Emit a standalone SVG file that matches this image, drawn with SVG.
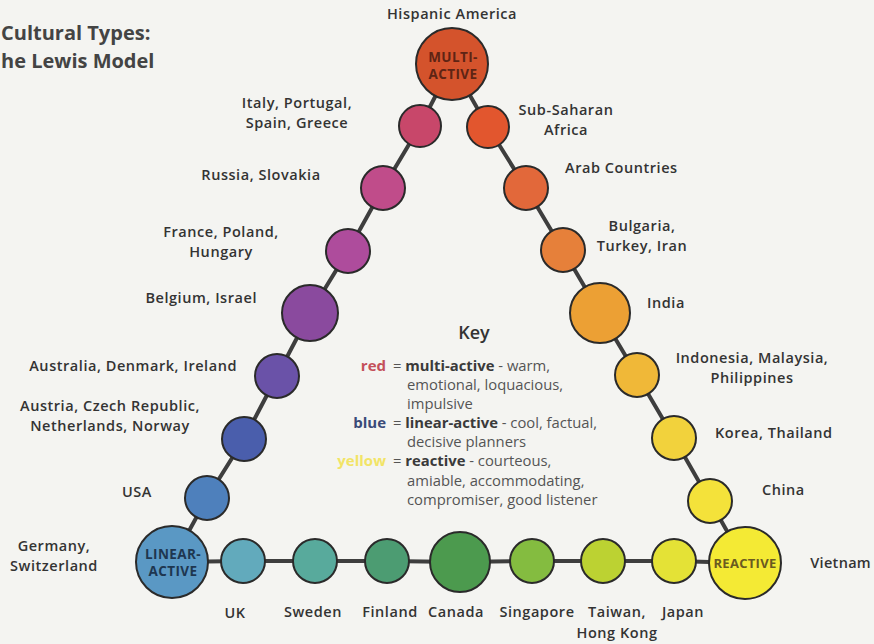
<svg xmlns="http://www.w3.org/2000/svg" width="874" height="644" viewBox="0 0 874 644">
<defs>
<style>
.bg{fill:#f4f4f1}
.lnk{stroke:#3e3e3e;stroke-width:4;fill:none}
.n{stroke:#2a2a2a;stroke-width:2}
.lbl{font-family:"Open Sans","Noto Sans",sans-serif;font-size:14.5px;font-weight:600;fill:#333;letter-spacing:0.55px}
.c{text-anchor:middle}
.e{text-anchor:end}
.in{font-family:"Open Sans","Noto Sans",sans-serif;font-size:13.5px;font-weight:700;text-anchor:middle;letter-spacing:0.4px}
.title{font-family:"Open Sans","Noto Sans",sans-serif;font-size:20px;font-weight:700;fill:#444}
.key{font-family:"Open Sans","Noto Sans",sans-serif;font-size:14.8px;fill:#555}
.kb{font-weight:700;fill:#3a3a3a}
.kw{font-family:"Open Sans","Noto Sans",sans-serif;font-size:15px;font-weight:700;text-anchor:end}
</style>
</defs>
<rect class="bg" x="0" y="0" width="874" height="644"/>
<text class="title" x="1" y="40">Cultural Types:</text>
<text class="title" x="1" y="68">he Lewis Model</text>

<g id="connectors">
<polyline class="lnk" points="452,64 420,126 383,188 348,251 310,313 277,376 244,439 207,498 172,562"/>
<polyline class="lnk" points="452,64 488,127 526,188 563,250 600,313 637,375 674,438 710,501 745,563"/>
<polyline class="lnk" points="172,562 243,561 315,561 387,561 460,562 532,561 603,561 674,561 745,563"/>
</g>

<g id="multi-active"><circle class="n" cx="452" cy="64" r="36" fill="#d4532c"/><text class="in" x="453" y="62" fill="#5e2414">MULTI-</text><text class="in" x="453" y="79" fill="#5e2414">ACTIVE</text><text class="lbl c" x="452" y="19">Hispanic America</text></g>
<g id="italy"><circle class="n" cx="420" cy="126" r="21" fill="#c8476a"/><text class="lbl c" x="297" y="108">Italy, Portugal,</text><text class="lbl c" x="297" y="128">Spain, Greece</text></g>
<g id="russia"><circle class="n" cx="383" cy="188" r="22" fill="#c04c8a"/><text class="lbl c" x="261" y="180">Russia, Slovakia</text></g>
<g id="france"><circle class="n" cx="348" cy="251" r="22" fill="#ae4c9c"/><text class="lbl c" x="221" y="237">France, Poland,</text><text class="lbl c" x="221" y="257">Hungary</text></g>
<g id="belgium"><circle class="n" cx="310" cy="313" r="28" fill="#8a4a9e"/><text class="lbl e" x="257" y="303">Belgium, Israel</text></g>
<g id="australia"><circle class="n" cx="277" cy="376" r="22" fill="#6a52a8"/><text class="lbl e" x="237" y="371">Australia, Denmark, Ireland</text></g>
<g id="austria"><circle class="n" cx="244" cy="439" r="22" fill="#4a5eac"/><text class="lbl c" x="110" y="411">Austria, Czech Republic,</text><text class="lbl c" x="110" y="431">Netherlands, Norway</text></g>
<g id="usa"><circle class="n" cx="207" cy="498" r="22" fill="#4e80bc"/><text class="lbl c" x="137" y="497">USA</text></g>
<g id="linear-active"><circle class="n" cx="172" cy="562" r="36" fill="#5a98c4"/><text class="in" x="173" y="559" fill="#1e3650">LINEAR-</text><text class="in" x="173" y="576" fill="#1e3650">ACTIVE</text><text class="lbl c" x="54" y="551">Germany,</text><text class="lbl c" x="54" y="571">Switzerland</text></g>
<g id="uk"><circle class="n" cx="243" cy="561" r="22" fill="#62aabc"/><text class="lbl c" x="235" y="618">UK</text></g>
<g id="sweden"><circle class="n" cx="315" cy="561" r="22" fill="#58aa9c"/><text class="lbl c" x="313" y="617">Sweden</text></g>
<g id="finland"><circle class="n" cx="387" cy="561" r="22" fill="#4c9c72"/><text class="lbl c" x="390" y="617">Finland</text></g>
<g id="canada"><circle class="n" cx="460" cy="562" r="30" fill="#4c9a4e"/><text class="lbl c" x="456" y="617">Canada</text></g>
<g id="singapore"><circle class="n" cx="532" cy="561" r="22" fill="#84bc40"/><text class="lbl c" x="537" y="617">Singapore</text></g>
<g id="taiwan"><circle class="n" cx="603" cy="561" r="22" fill="#bcd232"/><text class="lbl c" x="617" y="617">Taiwan,</text><text class="lbl c" x="617" y="638">Hong Kong</text></g>
<g id="japan"><circle class="n" cx="674" cy="561" r="22" fill="#e4e236"/><text class="lbl c" x="683" y="617">Japan</text></g>
<g id="reactive"><circle class="n" cx="745" cy="563" r="36" fill="#f4ea34"/><text class="in" x="745" y="568" fill="#6a5a20" style="font-size:13px;letter-spacing:0.3px">REACTIVE</text><text class="lbl e" x="871" y="568" style="letter-spacing:0.3px">Vietnam</text></g>
<g id="china"><circle class="n" cx="710" cy="501" r="22" fill="#f4e23a"/><text class="lbl" x="762" y="495">China</text></g>
<g id="korea"><circle class="n" cx="674" cy="438" r="22" fill="#f2d23c"/><text class="lbl" x="715" y="438">Korea, Thailand</text></g>
<g id="indonesia"><circle class="n" cx="637" cy="375" r="22" fill="#f0b838"/><text class="lbl c" x="752" y="363">Indonesia, Malaysia,</text><text class="lbl c" x="752" y="383">Philippines</text></g>
<g id="india"><circle class="n" cx="600" cy="313" r="30" fill="#eca034"/><text class="lbl" x="647" y="308">India</text></g>
<g id="bulgaria"><circle class="n" cx="563" cy="250" r="22" fill="#e6803a"/><text class="lbl c" x="642" y="231">Bulgaria,</text><text class="lbl c" x="642" y="251">Turkey, Iran</text></g>
<g id="arab"><circle class="n" cx="526" cy="188" r="22" fill="#e2683a"/><text class="lbl" x="565" y="173">Arab Countries</text></g>
<g id="subsaharan"><circle class="n" cx="488" cy="127" r="21" fill="#e2562e"/><text class="lbl c" x="566" y="115">Sub-Saharan</text><text class="lbl c" x="566" y="135">Africa</text></g>

<g id="key">
<text x="474" y="339" style="font-family:'Open Sans','Noto Sans',sans-serif;font-size:18px;font-weight:600;fill:#333;text-anchor:middle">Key</text>
<text class="kw" x="386" y="371" fill="#c4505a">red</text>
<text class="key" x="393" y="371">= <tspan class="kb">multi-active</tspan> - warm,</text>
<text class="key" x="407" y="390">emotional, loquacious,</text>
<text class="key" x="407" y="409">impulsive</text>
<text class="kw" x="386" y="428" fill="#3a4a78">blue</text>
<text class="key" x="393" y="428">= <tspan class="kb">linear-active</tspan> - cool, factual,</text>
<text class="key" x="407" y="447">decisive planners</text>
<text class="kw" x="386" y="466" fill="#f2e466">yellow</text>
<text class="key" x="393" y="466">= <tspan class="kb">reactive</tspan> - courteous,</text>
<text class="key" x="407" y="486">amiable, accommodating,</text>
<text class="key" x="407" y="505">compromiser, good listener</text>
</g>
</svg>
